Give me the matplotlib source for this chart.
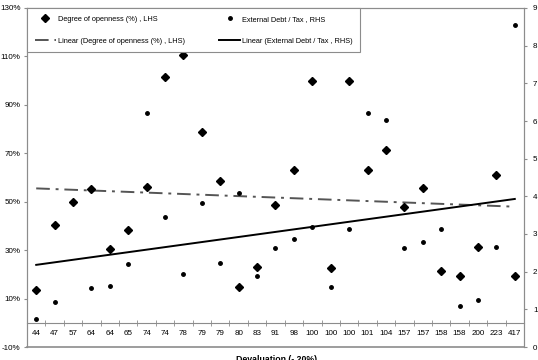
import numpy as np
import matplotlib
matplotlib.use('Agg')
import matplotlib.pyplot as plt
from matplotlib.lines import Line2D

plt.rcParams['font.family'] = ['Liberation Sans', 'DejaVu Sans']

# ---------------------------------------------------------------
# datos
# ---------------------------------------------------------------
devaluation = ['44', '47', '57', '64', '64', '65', '74', '74', '78', '79', '79', '80', '83', '91',
               '98', '100', '100', '100', '101', '104', '157', '157', '158', '158', '200', '223', '417']
openness = [13.7, 40.4, 49.9, 55.4, 30.5, 38.2, 56.2, 101.6, 110.5, 78.6, 58.6, 14.8, 23.1, 48.7,
            63.3, 100.0, 22.8, 100.0, 63.3, 71.3, 47.7, 55.6, 21.5, 19.3, 31.4, 60.9, 19.3]
debt_tax = [0.75, 1.19, 3.85, 1.56, 1.61, 2.20, 6.22, 3.45, 1.93, 3.81, 2.23, 4.10, 1.89, 2.63,
            2.86, 3.18, 1.59, 3.12, 6.22, 6.03, 2.62, 2.79, 3.12, 1.10, 1.24, 2.66, 8.55]
lhs_ticks = [-10, 10, 30, 50, 70, 90, 110, 130]
rhs_ticks = list(range(0, 10))

GREY = '#8c8c8c'
FS = 5.8

x = np.arange(len(devaluation))
# tendencias lineales (como Excel, sobre el índice de categoría)
p_open = np.polyfit(x, openness, 1)
p_debt = np.polyfit(x, debt_tax, 1)

fig = plt.figure(figsize=(5.38, 3.6), dpi=100)
ax = fig.add_axes([27/538, 1 - 347/360, 497/538, 339/360])
ax2 = ax.twinx()

ax.set_xlim(-0.5, len(x) - 0.5)
ax.set_ylim(-10, 130)
ax2.set_ylim(0, 9)

# marco gris del área de trazado
for s in ['top', 'left', 'right']:
    ax.spines[s].set_color(GREY)
    ax2.spines[s].set_color(GREY)
ax2.spines['bottom'].set_visible(False)
ax.spines['bottom'].set_position(('data', 0))
ax.spines['bottom'].set_color(GREY)
ax.plot([0, 1], [0, 0], transform=ax.transAxes, color=GREY, lw=1.2, clip_on=False)

# eje x en 0 con marcas entre categorías
ax.set_xticks(x)
ax.set_xticklabels(devaluation, fontsize=FS)
ax.set_xticks(x[:-1] + 0.5, minor=True)
ax.tick_params(axis='x', which='major', length=0, pad=5)
ax.tick_params(axis='x', which='minor', length=4, direction='inout', color=GREY)

ax.set_yticks(lhs_ticks)
ax.set_yticklabels([f'{v}%' for v in lhs_ticks], fontsize=FS)
ax.tick_params(axis='y', length=2, color=GREY, pad=2.5)
ax2.set_yticks(rhs_ticks)
ax2.set_yticklabels([str(v) for v in rhs_ticks], fontsize=FS)
ax2.tick_params(axis='y', length=2.5, color=GREY, pad=4)

# series
ax.plot(x, openness, 'D', color='black', ms=3.6, zorder=4)
ax2.plot(x, debt_tax, 'o', color='black', ms=2.5, zorder=3)
ax.plot(x, np.polyval(p_open, x), color='#555555', lw=1.4, dashes=(7, 3, 1.5, 3), zorder=2)
ax2.plot(x, np.polyval(p_debt, x), color='black', lw=1.4, zorder=2)

handles = [
    Line2D([], [], ls='none', marker='D', color='black', ms=3.6),
    Line2D([], [], color='#555555', lw=1.4, dashes=(7, 3, 1.5, 3)),
    Line2D([], [], ls='none', marker='o', color='black', ms=2.5),
    Line2D([], [], color='black', lw=1.4),
]
labels = ['Degree of openness (%) , LHS', 'Linear (Degree of openness (%) , LHS)',
          'External Debt / Tax , RHS', 'Linear (External Debt / Tax , RHS)']
leg = ax2.legend(handles, labels, ncol=2, mode='expand', loc='upper left',
                 bbox_to_anchor=(0, 1 - 43/339, 333/497, 43/339), borderaxespad=0,
                 prop={'size': 5.3}, frameon=True, fancybox=False, framealpha=1,
                 edgecolor=GREY, handlelength=2.9, handletextpad=0.2,
                 labelspacing=2.0, borderpad=1.05, columnspacing=0.5)
leg.get_frame().set_linewidth(0.8)

fig.text(277/538, 1/360, 'Devaluation (- 20%)', ha='center', va='center',
         fontsize=FS + 0.5, fontweight='bold')

fig.savefig('out.png', dpi=100)
